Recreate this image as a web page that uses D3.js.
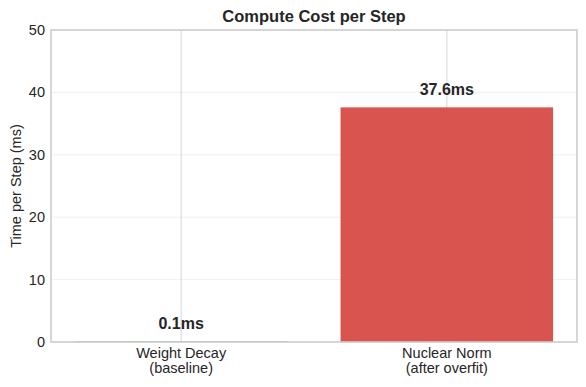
<!DOCTYPE html>
<html>
<head>
<meta charset="utf-8">
<script src="https://cdn.jsdelivr.net/npm/d3@7"></script>
<style>
  body { margin: 0; background: #fff; }
  text { font-family: "Liberation Sans", Arial, sans-serif; fill: #262626; }
</style>
</head>
<body>
<svg id="chart"></svg>
<script>
// chart data
const categories = ["Weight Decay\n(baseline)", "Nuclear Norm\n(after overfit)"];
const times = [0.1, 37.6];
const labels = ["0.1ms", "37.6ms"];
const barColors = ["#5cb85c", "#d9534f"];
const yTicks = [0, 10, 20, 30, 40, 50];

const width = 586, height = 387;
const margin = { top: 30, right: 9, bottom: 45, left: 51 };
const innerW = width - margin.left - margin.right;
const innerH = height - margin.top - margin.bottom;

const svg = d3.select("#chart")
  .attr("width", width)
  .attr("height", height);

const g = svg.append("g")
  .attr("transform", `translate(${margin.left},${margin.top})`);

// x in bar units, same padding as matplotlib's default margins
const x = d3.scaleLinear().domain([-0.49, 1.49]).range([0, innerW]);
const y = d3.scaleLinear().domain([0, 50]).range([innerH, 0]);

// horizontal grid
g.selectAll("line.hgrid")
  .data(yTicks)
  .enter()
  .append("line")
  .attr("class", "hgrid")
  .attr("x1", 0)
  .attr("x2", innerW)
  .attr("y1", d => y(d))
  .attr("y2", d => y(d))
  .attr("stroke", "#ebebeb")
  .attr("stroke-width", 0.8);

// vertical grid at categories
g.selectAll("line.vgrid")
  .data(categories)
  .enter()
  .append("line")
  .attr("class", "vgrid")
  .attr("x1", (d, i) => x(i))
  .attr("x2", (d, i) => x(i))
  .attr("y1", 0)
  .attr("y2", innerH)
  .attr("stroke", "#cccccc")
  .attr("stroke-width", 0.8);

// bars
g.selectAll("rect.bar")
  .data(times)
  .enter()
  .append("rect")
  .attr("class", "bar")
  .attr("x", (d, i) => x(i - 0.4))
  .attr("width", x(0.8) - x(0))
  .attr("y", d => y(d))
  .attr("height", d => innerH - y(d))
  .attr("fill", (d, i) => barColors[i]);

// value labels
g.selectAll("text.val")
  .data(times)
  .enter()
  .append("text")
  .attr("class", "val")
  .attr("x", (d, i) => x(i))
  .attr("y", d => y(d + 1.0) - 6)
  .attr("text-anchor", "middle")
  .style("font-size", "16px")
  .style("font-weight", "bold")
  .text((d, i) => labels[i]);

// frame (covers the hairline baseline bar like the original)
g.append("rect")
  .attr("width", innerW)
  .attr("height", innerH)
  .attr("fill", "none")
  .attr("stroke", "#cccccc")
  .attr("stroke-width", 1.6);

// y tick labels
g.selectAll("text.ytick")
  .data(yTicks)
  .enter()
  .append("text")
  .attr("class", "ytick")
  .attr("x", -6)
  .attr("y", d => y(d))
  .attr("dy", "0.35em")
  .attr("text-anchor", "end")
  .style("font-size", "14.5px")
  .text(d => d);

// x tick labels (two lines)
const xl = g.selectAll("text.xtick")
  .data(categories)
  .enter()
  .append("text")
  .attr("class", "xtick")
  .attr("text-anchor", "middle")
  .attr("transform", (d, i) => `translate(${x(i)},${innerH + 16})`)
  .style("font-size", "14.5px");

xl.selectAll("tspan")
  .data(d => d.split("\n"))
  .enter()
  .append("tspan")
  .attr("x", 0)
  .attr("dy", (d, i) => i === 0 ? 0 : 15)
  .text(d => d);

// y axis title
svg.append("text")
  .attr("transform", `translate(21,${margin.top + innerH / 2}) rotate(-90)`)
  .attr("text-anchor", "middle")
  .style("font-size", "14.5px")
  .text("Time per Step (ms)");

// title
svg.append("text")
  .attr("x", margin.left + innerW / 2)
  .attr("y", 22)
  .attr("text-anchor", "middle")
  .style("font-size", "16.5px")
  .style("font-weight", "bold")
  .text("Compute Cost per Step");
</script>
</body>
</html>
